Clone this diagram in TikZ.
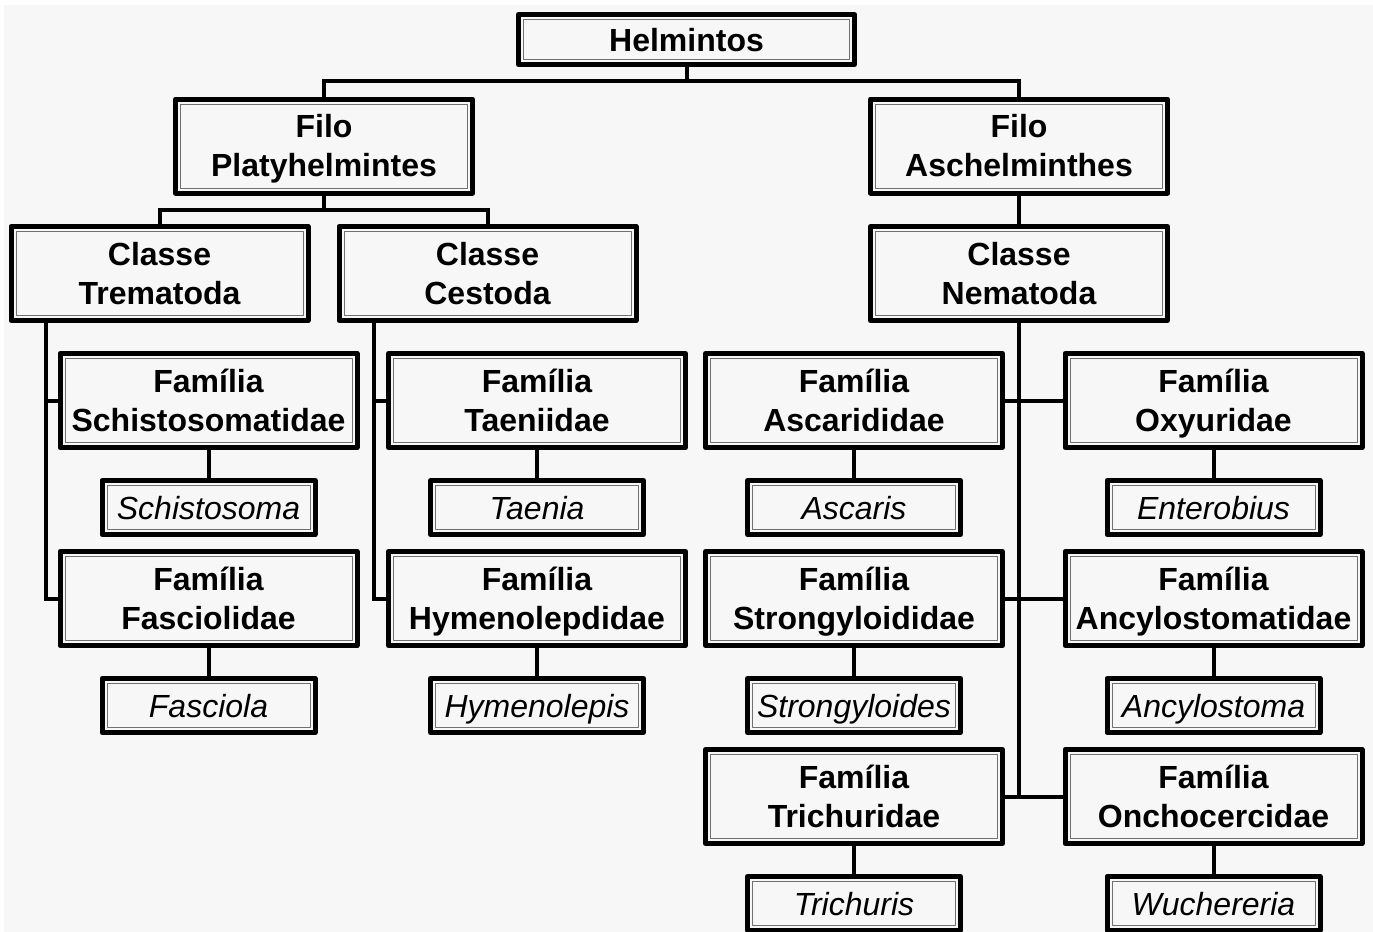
\documentclass[tikz,border=0pt]{standalone}
\usepackage{fontspec}
\setmainfont{Liberation Sans}
\usetikzlibrary{calc,positioning}
\definecolor{bgc}{HTML}{F7F7F7}
\definecolor{innerc}{HTML}{707070}
\tikzset{/helm/box/.style={rectangle, draw, line width=2.5pt, line join=round, fill=bgc, align=center, inner sep=0pt, minimum width=148.5pt, minimum height=47pt, text height=32.5pt, text depth=2pt, node font=\fontsize{16}{19.5}\selectfont, font=\bfseries,
path picture={\draw[line width=0.5pt, innerc] ([shift={(2.5pt,2.5pt)}]path picture bounding box.south west) rectangle ([shift={(-2.5pt,-2.5pt)}]path picture bounding box.north east);}
}}
\tikzset{/helm/top/.style={/helm/box, minimum width=168pt, minimum height=25pt, text height=13.5pt}}
\tikzset{/helm/genus/.style={/helm/box, minimum width=106.5pt, minimum height=27pt, text height=13.5pt, font=\itshape\mdseries}}
\tikzset{/helm/conn/.style={draw, line width=2pt}}

\begin{document}
\begin{tikzpicture}[x=0.5pt, y=-0.5pt]
		\useasboundingbox (0,0) rectangle (1373,932);
		\fill[white] (0,0) rectangle (1373,932);
		\fill[bgc] (4,5) rectangle (1373,932);
		% reino e filos
		\node[/helm/top] (helm) at (686.5,39.5) {Helmintos};
		\node[/helm/box] (platy) at (324,146) {Filo\\Platyhelmintes};
		\node[/helm/box] (aschel) at (1019,146) {Filo\\Aschelminthes};
		% classes
		\node[/helm/box] (trem) at (159.5,273.5) {Classe\\Trematoda};
		\node[/helm/box] (cest) at (487.5,273.5) {Classe\\Cestoda};
		\node[/helm/box] (nema) at (1019,273.5) {Classe\\Nematoda};
		% familias
		\node[/helm/box] (schi) at (208.5,400.5) {Família\\Schistosomatidae};
		\node[/helm/box] (fasc) at (208.5,598.5) {Família\\Fasciolidae};
		\node[/helm/box] (taen) at (537,400.5) {Família\\Taeniidae};
		\node[/helm/box] (hyme) at (537,598.5) {Família\\Hymenolepdidae};
		\node[/helm/box] (asca) at (854,400.5) {Família\\Ascarididae};
		\node[/helm/box] (strong) at (854,598.5) {Família\\Strongyloididae};
		\node[/helm/box] (trich) at (854,796.5) {Família\\Trichuridae};
		\node[/helm/box] (oxy) at (1213.5,400.5) {Família\\Oxyuridae};
		\node[/helm/box] (ancy) at (1213.5,598.5) {Família\\Ancylostomatidae};
		\node[/helm/box] (oncho) at (1213.5,796.5) {Família\\Onchocercidae};
		% generos
		\node[/helm/genus] (schisto) at (208.5,507.5) {Schistosoma};
		\node[/helm/genus] (fasciola) at (208.5,705.5) {Fasciola};
		\node[/helm/genus] (taenia) at (537,507.5) {Taenia};
		\node[/helm/genus] (hymeno) at (537,705.5) {Hymenolepis};
		\node[/helm/genus] (ascaris) at (854,507.5) {Ascaris};
		\node[/helm/genus] (strongy) at (854,705.5) {Strongyloides};
		\node[/helm/genus] (trichu) at (854,903.5) {Trichuris};
		\node[/helm/genus] (entero) at (1213.5,507.5) {Enterobius};
		\node[/helm/genus] (ancylo) at (1213.5,705.5) {Ancylostoma};
		\node[/helm/genus] (wuch) at (1213.5,903.5) {Wuchereria};
		% ligacoes
		\coordinate (bus0) at (686.5,81);
		\coordinate (bus1) at (324,210);
		\coordinate (tremT) at (46,323);
		\coordinate (cestT) at (373.5,323);
		\draw[/helm/conn] (helm.south) -- (bus0);
		\draw[/helm/conn] (platy.north) |- (bus0) -| (aschel.north);
		\draw[/helm/conn] (platy.south) -- (bus1);
		\draw[/helm/conn] (trem.north) |- (bus1) -| (cest.north);
		\draw[/helm/conn] (aschel.south) -- (nema.north);
		\draw[/helm/conn] (tremT) |- (fasc.west);
		\draw[/helm/conn] (schi.west) -- (schi.west -| tremT);
		\draw[/helm/conn] (cestT) |- (hyme.west);
		\draw[/helm/conn] (taen.west) -- (taen.west -| cestT);
		\draw[/helm/conn] (nema.south) -- (nema.south |- trich.east);
		\draw[/helm/conn] (asca.east) -- (oxy.west);
		\draw[/helm/conn] (strong.east) -- (ancy.west);
		\draw[/helm/conn] (trich.east) -- (oncho.west);
		\foreach \fam/\gen in {schi/schisto, fasc/fasciola, taen/taenia, hyme/hymeno, asca/ascaris, strong/strongy, trich/trichu, oxy/entero, ancy/ancylo, oncho/wuch}
			\draw[/helm/conn] (\fam.south) -- (\gen.north);
	\end{tikzpicture}
\end{document}
